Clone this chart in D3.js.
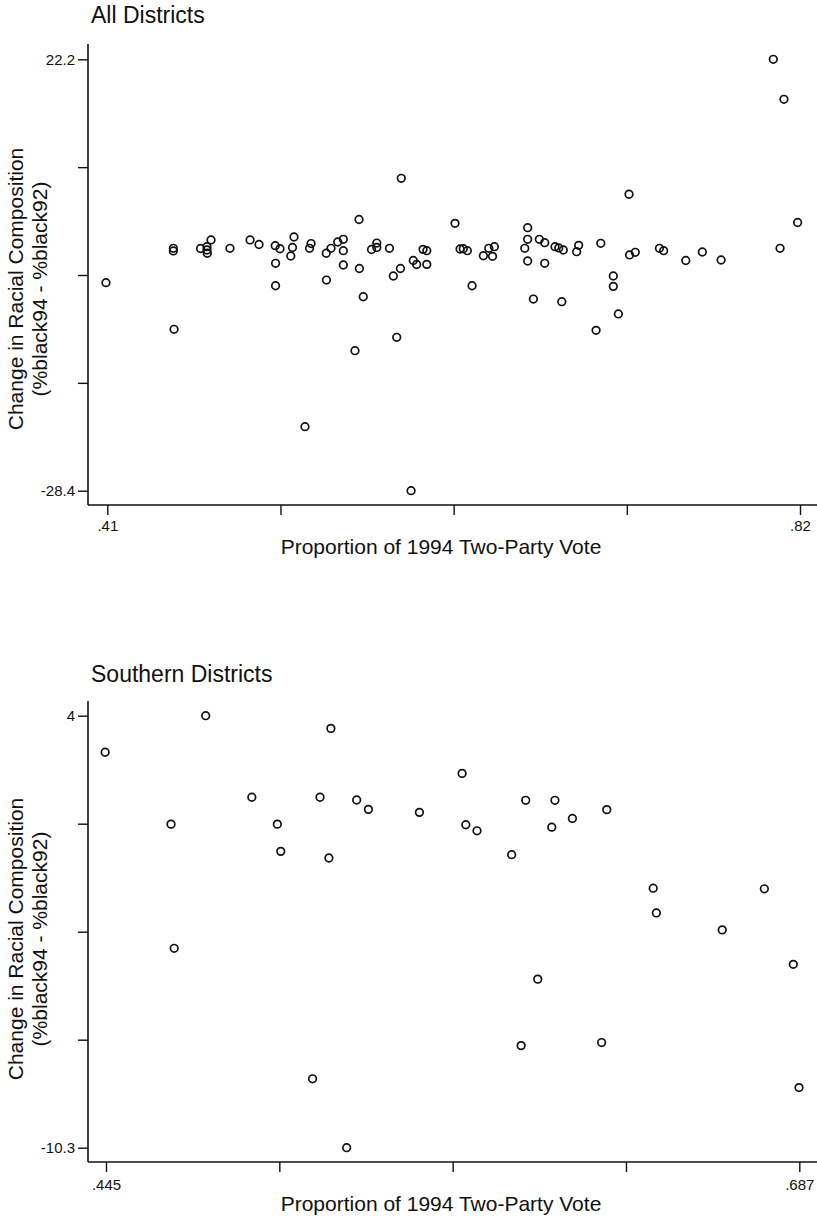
<!DOCTYPE html>
<html>
<head>
<meta charset="utf-8">
<script src="https://cdn.jsdelivr.net/npm/d3@7"></script>
<style>
  body { margin: 0; background: #fff; }
  text { font-family: "Liberation Sans", Arial, Helvetica, sans-serif; fill: #111; }
</style>
</head>
<body>
<div id="chart"></div>
<script>
// All districts: proportion of 1994 two-party vote vs change in % black
var allVote = [0.4092, 0.4491, 0.4491, 0.4495, 0.4652, 0.4690, 0.4690, 0.4692, 0.4714, 0.4826,
  0.4945, 0.4998, 0.5094, 0.5122, 0.5096, 0.5096, 0.5186, 0.5196, 0.5205, 0.5270,
  0.5297, 0.5306, 0.5396, 0.5397, 0.5424, 0.5464, 0.5497, 0.5497, 0.5497, 0.5566,
  0.5590, 0.5592, 0.5615, 0.5664, 0.5695, 0.5695, 0.5770, 0.5793, 0.5813, 0.5835,
  0.5840, 0.5898, 0.5911, 0.5931, 0.5969, 0.5991, 0.5991, 0.6158, 0.6188, 0.6207,
  0.6231, 0.6259, 0.6326, 0.6358, 0.6391, 0.6380, 0.6571, 0.6588, 0.6588, 0.6588,
  0.6622, 0.6657, 0.6689, 0.6689, 0.6750, 0.6772, 0.6799, 0.6790, 0.6890, 0.6878,
  0.6993, 0.7021, 0.7095, 0.7095, 0.7125, 0.7188, 0.7191, 0.7225, 0.7368, 0.7393,
  0.7524, 0.7622, 0.7733, 0.8042, 0.8105, 0.8082, 0.8186];
var allChange = [-4.00, 0.03, -0.28, -9.47, 0.01, 0.22, -0.17, -0.55, 1.01, 0.03,
  1.01, 0.48, 0.34, -0.02, -1.73, -4.36, -0.87, 0.13, 1.36, -20.89,
  0.03, 0.59, -0.55, -3.69, 0.03, 0.77, 1.09, -0.25, -1.93, -11.98,
  3.41, -2.34, -5.65, -0.11, 0.13, 0.65, 0.03, -3.22, -10.41, -2.34,
  8.24, -28.4, -1.40, -1.87, -0.09, -0.25, -1.85, 2.96, -0.05, -0.02,
  -0.25, -4.36, -0.84, 0.03, 0.22, -0.91, 0.03, 2.45, 1.09, -1.46,
  -5.92, 1.09, 0.69, -1.73, 0.22, 0.07, -0.17, -6.23, 0.38, -0.37,
  -9.59, 0.62, -3.22, -4.43, -7.67, 6.37, -0.75, -0.44, 0.03, -0.25,
  -1.40, -0.40, -1.34, 22.2, 17.51, 0.03, 3.06];

// Southern districts
var southVote = [0.4447, 0.4677, 0.4688, 0.4798, 0.4959, 0.5048, 0.5060, 0.5171, 0.5197, 0.5228,
  0.5235, 0.5290, 0.5325, 0.5366, 0.5544, 0.5693, 0.5706, 0.5745, 0.5866, 0.5899,
  0.5915, 0.5957, 0.6006, 0.6017, 0.6078, 0.6180, 0.6198, 0.6360, 0.6371, 0.6601,
  0.6748, 0.6849, 0.6869];
var southChange = [2.79, 0.41, -3.70, 4.0, 1.30, 0.41, -0.49, -8.02, 1.30, -0.71,
  3.58, -10.3, 1.21, 0.90, 0.80, 2.09, 0.39, 0.19, -0.60, -6.92,
  1.20, -4.72, 0.31, 1.20, 0.60, -6.82, 0.89, -1.71, -2.53, -3.09,
  -1.73, -4.23, -8.31];

// ticks: only the end ticks carry labels
var allXTicks = [0.41, 0.5125, 0.615, 0.7175, 0.82];
var allXLabels = [".41", "", "", "", ".82"];
var allYTicks = [22.2, 9.55, -3.1, -15.75, -28.4];
var allYLabels = ["22.2", "", "", "", "-28.4"];
var southXTicks = [0.445, 0.5055, 0.566, 0.6265, 0.687];
var southXLabels = [".445", "", "", "", ".687"];
var southYTicks = [4, 0.425, -3.15, -6.725, -10.3];
var southYLabels = ["4", "", "", "", "-10.3"];

var width = 817, height = 1216;

var svg = d3.select("#chart").append("svg")
  .attr("width", width)
  .attr("height", height);

svg.append("rect").attr("width", width).attr("height", height).attr("fill", "#fff");

function drawPanel(p) {
  var g = svg.append("g");

  var x = d3.scaleLinear().domain([p.xTicks[0], p.xTicks[4]]).range([p.left, p.right]);
  var y = d3.scaleLinear().domain([p.yTicks[4], p.yTicks[0]]).range([p.bottom, p.top]);

  // title
  g.append("text")
    .attr("x", 91)
    .attr("y", p.titleY)
    .style("font-size", "23px")
    .text(p.title);

  // y axis
  var yAxis = d3.axisLeft(y)
    .tickValues(p.yTicks)
    .tickSize(10)
    .tickPadding(3)
    .tickFormat(function(d, i) { return p.yLabels[i]; });
  var ya = g.append("g")
    .attr("transform", "translate(" + p.axisX + ",0)")
    .call(yAxis);
  ya.select(".domain").remove();
  ya.selectAll("line").attr("stroke", "#111").attr("stroke-width", 1.4);
  ya.selectAll("text").style("font-size", "15px").attr("fill", "#111");
  g.append("line")
    .attr("x1", p.axisX).attr("x2", p.axisX)
    .attr("y1", p.axisTop).attr("y2", p.axisY)
    .attr("stroke", "#111").attr("stroke-width", 1.6);

  // x axis
  var xAxis = d3.axisBottom(x)
    .tickValues(p.xTicks)
    .tickSize(10)
    .tickPadding(p.xPad)
    .tickFormat(function(d, i) { return p.xLabels[i]; });
  var xa = g.append("g")
    .attr("transform", "translate(0," + p.axisY + ")")
    .call(xAxis);
  xa.select(".domain").remove();
  xa.selectAll("line").attr("stroke", "#111").attr("stroke-width", 1.4);
  xa.selectAll("text").style("font-size", "15px").attr("fill", "#111");
  g.append("line")
    .attr("x1", p.axisX).attr("x2", width)
    .attr("y1", p.axisY).attr("y2", p.axisY)
    .attr("stroke", "#111").attr("stroke-width", 1.6);

  // axis titles
  g.append("text")
    .attr("x", 441)
    .attr("y", p.axisY + 49)
    .attr("text-anchor", "middle")
    .style("font-size", "21px")
    .text("Proportion of 1994 Two-Party Vote");

  var yt = g.append("text")
    .attr("transform", "translate(23," + p.yTitleMid + ") rotate(-90)")
    .attr("text-anchor", "middle")
    .style("font-size", "21px");
  yt.append("tspan").attr("x", 0).attr("y", 0).text("Change in Racial Composition");
  yt.append("tspan").attr("x", 0).attr("y", 24).text("(%black94 - %black92)");

  // points
  g.append("g").selectAll("circle")
    .data(p.xs)
    .enter()
    .append("circle")
    .attr("cx", function(d) { return x(d); })
    .attr("cy", function(d, i) { return y(p.ys[i]); })
    .attr("r", 3.8)
    .attr("fill", "none")
    .attr("stroke", "#111")
    .attr("stroke-width", 1.7);
}

drawPanel({
  title: "All Districts", titleY: 23,
  xs: allVote, ys: allChange,
  xTicks: allXTicks, xLabels: allXLabels,
  yTicks: allYTicks, yLabels: allYLabels,
  left: 107.3, right: 800, top: 59.3, bottom: 490.7,
  axisX: 88, axisTop: 44, axisY: 505, xPad: 5, yTitleMid: 289
});

drawPanel({
  title: "Southern Districts", titleY: 682,
  xs: southVote, ys: southChange,
  xTicks: southXTicks, xLabels: southXLabels,
  yTicks: southYTicks, yLabels: southYLabels,
  left: 106, right: 799.3, top: 715.7, bottom: 1147.7,
  axisX: 88, axisTop: 701, axisY: 1162, xPad: 7, yTitleMid: 939
});
</script>
</body>
</html>
